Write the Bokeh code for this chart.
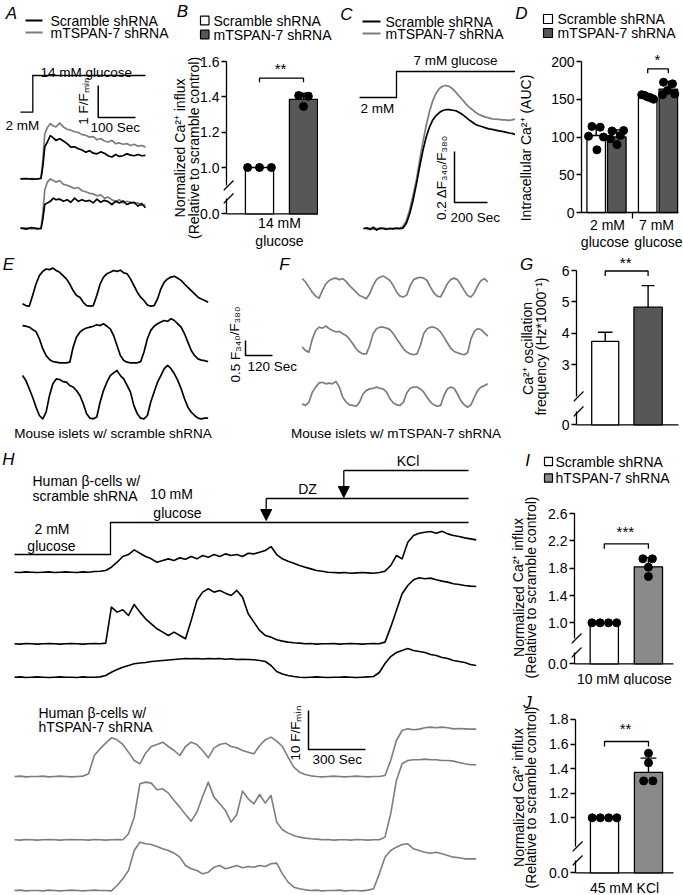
from bokeh.plotting import figure
from bokeh.layouts import row, column
from bokeh.models import Range1d, Label, Arrow, NormalHead, FixedTicker, LinearAxis
from bokeh.embed import file_html
from bokeh.resources import INLINE

# ======================= DATA =======================
# --- A: Ca2+ traces at 14 mM glucose (F/Fmin), time in s
A_series = ["Scramble shRNA", "mTSPAN-7 shRNA"]
A_t = [0, 15, 30, 45, 55, 60, 65, 72, 80, 88, 95, 105, 115, 125, 135, 145, 155, 165,
       175, 185, 195, 205, 215, 225, 235, 245, 255, 265, 275, 285, 295, 305, 315, 325, 335]
A_scr_1 = [1.0, 1.01, 0.99, 1.0, 1.01, 1.4, 2.0, 2.15, 2.35, 2.28, 2.2, 2.25, 2.18, 2.1, 1.99, 2.0, 1.94, 1.9,
           1.83, 1.88, 1.8, 1.78, 1.84, 1.8, 1.72, 1.68, 1.76, 1.7, 1.72, 1.78, 1.74, 1.72, 1.76, 1.72, 1.73]
A_tsp_1 = [1.0, 0.99, 1.01, 1.0, 1.02, 1.6, 2.4, 2.6, 2.72, 2.65, 2.62, 2.74, 2.62, 2.55, 2.52, 2.47, 2.45, 2.38,
           2.36, 2.30, 2.32, 2.22, 2.26, 2.18, 2.15, 2.2, 2.1, 2.12, 2.08, 2.1, 2.04, 2.08, 2.02, 2.04, 1.99]
A_scr_2 = [1.02, 0.98, 1.03, 0.99, 1.0, 1.3, 1.75, 1.8, 1.85, 1.95, 1.9, 1.92, 1.85, 1.9, 1.82, 1.95, 1.85, 1.9,
           1.85, 1.88, 1.8, 1.92, 1.82, 1.88, 1.84, 1.75, 1.85, 1.8, 1.86, 1.75, 1.8, 1.82, 1.7, 1.78, 1.65]
A_tsp_2 = [1.0, 1.02, 0.99, 1.01, 1.0, 1.5, 2.2, 2.45, 2.55, 2.5, 2.45, 2.5, 2.38, 2.35, 2.3, 2.25, 2.28, 2.18,
           2.15, 2.1, 2.08, 2.02, 2.05, 1.95, 1.98, 1.9, 1.85, 1.9, 1.8, 1.85, 1.82, 1.78, 1.8, 1.72, 1.75]

# --- B: normalized Ca2+ influx, 14 mM glucose
B_groups = ["Scramble shRNA", "mTSPAN-7 shRNA"]
B_mean = [1.0, 1.386]
B_sd = [0.0, 0.035]
B_dots = [[1.0, 1.0, 1.0], [1.408, 1.404, 1.346]]
B_ticks = [0.0, 1.0, 1.2, 1.4, 1.6]
B_ticklabels = ["0.0", "1.0", "1.2", "1.4", "1.6"]

# --- C: Ca2+ traces at 7 mM glucose (delta F340/F380), time in s
C_series = ["Scramble shRNA", "mTSPAN-7 shRNA"]
C_t = [0, 20, 40, 60, 80, 100, 120, 140, 160, 180, 200, 220, 240, 260, 280, 300, 320, 340, 360, 380,
       400, 420, 440, 460, 480, 500, 520, 540, 560, 580, 600, 620, 640, 660, 680, 700, 720, 740, 760,
       780, 800, 820, 840, 860, 880, 900, 920]
C_scr = [0.0, 0.004, -0.003, 0.006, -0.005, 0.003, 0.001, -0.002, 0.002, 0.0, 0.003, 0.001,
         0.003, 0.022, 0.059, 0.111, 0.173, 0.242, 0.307, 0.36, 0.399, 0.427, 0.444, 0.456, 0.464,
         0.467, 0.467, 0.465, 0.463, 0.456, 0.448, 0.438, 0.427, 0.418, 0.409, 0.404, 0.4, 0.396,
         0.392, 0.39, 0.387, 0.384, 0.382, 0.379, 0.376, 0.374, 0.37]
C_tsp = [0.003, 0.0, 0.002, -0.002, 0.001, 0.0, 0.003, 0.001, -0.001, 0.002, 0.0, 0.002,
         0.01, 0.033, 0.075, 0.131, 0.19, 0.268, 0.34, 0.405, 0.46, 0.503, 0.532, 0.55, 0.559,
         0.562, 0.558, 0.549, 0.535, 0.52, 0.506, 0.49, 0.477, 0.467, 0.456, 0.448, 0.443, 0.438,
         0.435, 0.431, 0.43, 0.429, 0.427, 0.427, 0.425, 0.427, 0.43]

# --- D: intracellular Ca2+ (AUC)
D_groups = ["2 mM glucose", "7 mM glucose"]
D_series = ["Scramble shRNA", "mTSPAN-7 shRNA"]
D_scr_mean = [102, 152]
D_scr_sd = [11, 2.5]
D_tsp_mean = [100, 163.5]
D_tsp_sd = [9.5, 10]
D_scr_dots = [[114, 113, 101, 100, 83], [156, 155, 153, 152, 150]]
D_tsp_dots = [[108, 108.6, 102, 97.6, 90], [172.6, 170.4, 156, 157, 161.6]]
D_ticks = [0, 50, 100, 150, 200]

# --- E / F: Ca2+ oscillations (F340/F380 above trough), time in s
E_t = [0, 15, 30, 45, 60, 75, 90, 105, 120, 135, 150, 165, 180, 195, 210, 225, 240, 255, 270, 285,
       300, 315, 330, 345, 360, 375, 390, 405, 420, 435, 450, 465, 480, 495, 510, 525, 540, 555,
       570, 585, 600, 615, 630, 645, 660, 675, 690, 705, 720, 735, 750, 765, 780, 795, 810, 825]
E_1 = [0.08, 0.02, 0.0, 0.36, 0.74, 1.02, 1.16, 1.24, 1.22, 1.27, 1.19, 1.13, 1.02, 0.91, 0.74, 0.52,
       0.36, 0.30, 0.13, 0.02, 0.0, 0.02, 0.36, 0.74, 0.97, 1.08, 1.13, 1.19, 1.16, 1.20, 1.11, 1.08,
       0.91, 0.69, 0.47, 0.30, 0.19, 0.04, 0.0, 0.02, 0.24, 0.58, 0.80, 0.91, 0.97, 1.0, 0.93, 0.86,
       0.74, 0.63, 0.52, 0.41, 0.30, 0.24, 0.19, 0.13]
E_2 = [1.24, 1.22, 1.19, 1.11, 1.04, 0.8, 0.47, 0.24, 0.11, 0.04, 0.02, 0.0, 0.0, 0.0, 0.02, 0.52,
       0.86, 1.02, 1.11, 1.16, 1.19, 1.22, 1.27, 1.24, 1.3, 1.22, 1.13, 0.91, 0.58, 0.24, 0.08, 0.02,
       0.0, 0.0, 0.0, 0.04, 0.36, 0.8, 1.08, 1.22, 1.3, 1.36, 1.41, 1.38, 1.47, 1.41, 1.3, 1.19,
       0.97, 0.69, 0.41, 0.24, 0.13, 0.09, 0.07, 0.04]
E_3 = [1.44, 1.28, 1.0, 0.72, 0.39, 0.11, 0.0, 0.22, 0.78, 1.17, 1.33, 1.31, 1.24, 1.22, 1.11, 1.06,
       0.94, 0.78, 0.5, 0.17, 0.02, 0.0, 0.06, 0.56, 0.94, 1.22, 1.44, 1.53, 1.61, 1.44, 1.33, 1.11,
       0.89, 0.44, 0.17, 0.02, 0.0, 0.11, 0.56, 0.89, 1.22, 1.44, 1.67, 1.78, 1.67, 1.5, 1.28, 1.0,
       0.67, 0.39, 0.22, 0.11, 0.02, 0.0, 0.02, 0.02]
F_t = E_t
F_1 = [0.67, 0.56, 0.39, 0.22, 0.09, 0.02, 0.28, 0.5, 0.61, 0.67, 0.69, 0.64, 0.67, 0.58, 0.44, 0.33,
       0.22, 0.11, 0.06, 0.0, 0.17, 0.44, 0.64, 0.72, 0.76, 0.69, 0.61, 0.44, 0.22, 0.09, 0.06, 0.13,
       0.44, 0.64, 0.69, 0.72, 0.69, 0.61, 0.39, 0.2, 0.09, 0.06, 0.28, 0.5, 0.64, 0.69, 0.64, 0.47,
       0.28, 0.11, 0.06, 0.2, 0.44, 0.61, 0.67, 0.56]
F_2 = [0.26, 0.14, 0.09, 0.53, 0.81, 0.92, 0.89, 0.96, 0.87, 0.81, 0.76, 0.78, 0.70, 0.64, 0.53, 0.37,
       0.20, 0.09, 0.03, 0.03, 0.31, 0.70, 0.87, 0.92, 0.92, 0.89, 0.84, 0.70, 0.53, 0.37, 0.20, 0.09,
       0.03, 0.0, 0.03, 0.31, 0.70, 0.87, 0.92, 0.92, 0.87, 0.76, 0.59, 0.40, 0.22, 0.11, 0.07, 0.03,
       0.0, 0.07, 0.53, 0.78, 0.87, 0.84, 0.73, 0.62]
F_3 = [0.11, 0.06, 0.17, 0.50, 0.67, 0.81, 0.83, 0.78, 0.80, 0.78, 0.86, 0.67, 0.33, 0.17, 0.08, 0.06,
       0.03, 0.17, 0.44, 0.56, 0.61, 0.63, 0.67, 0.63, 0.61, 0.50, 0.28, 0.14, 0.08, 0.06, 0.17, 0.48,
       0.63, 0.67, 0.67, 0.61, 0.50, 0.33, 0.17, 0.08, 0.03, 0.06, 0.39, 0.61, 0.67, 0.63, 0.44, 0.22,
       0.08, 0.0, 0.08, 0.33, 0.56, 0.67, 0.72, 0.78]

# --- G: oscillation frequency (Hz*1000^-1)
G_groups = ["Scramble shRNA", "mTSPAN-7 shRNA"]
G_mean = [3.74, 4.83]
G_err = [0.29, 0.69]
G_ticks = [0, 3, 4, 5, 6]

# --- H: human beta-cell traces (F/Fmin), time in s
H_t = [0, 30, 60, 90, 120, 150, 180, 210, 240, 270, 300, 330, 360, 390, 420, 450, 480, 510, 540, 570,
       600, 630, 660, 690, 720, 750, 780, 810, 840, 870, 900, 930, 960, 990, 1020, 1050, 1080, 1110,
       1140, 1170, 1200, 1230, 1260, 1290, 1320, 1350, 1380, 1410, 1440, 1470, 1500, 1530, 1560, 1590,
       1620, 1650, 1680, 1710, 1740, 1770, 1800, 1830, 1860, 1890, 1920, 1950, 1980, 2010, 2040, 2070,
       2100, 2130, 2160, 2190, 2220, 2250, 2280, 2310, 2340, 2370, 2400, 2430]
H_scr_1 = [1.0, 0.91, 1.09, 1.0, 0.91, 1.0, 1.09, 0.91, 1.0, 1.09, 1.0, 0.91, 1.09, 1.0, 1.17, 1.26, 1.43,
           2.28, 3.56, 5.02, 5.53, 6.73, 5.87, 5.02, 4.42, 3.56, 3.99, 4.42, 3.99, 4.68, 4.33, 5.02, 4.42,
           5.27, 4.85, 5.53, 5.02, 5.7, 5.27, 5.53, 5.02, 5.87, 5.7, 6.13, 6.56, 7.58,
           5.53, 4.42, 3.82, 3.31, 2.71, 2.28, 1.85, 1.43, 1.26, 1.0, 0.91,
           0.83, 0.91, 0.74, 0.83, 0.91, 0.83, 0.74, 0.91,
           1.26, 2.71, 5.27, 4.42, 8.69, 10.4, 11.0, 11.26, 11.43, 11.0, 11.51, 10.83, 10.4, 10.15, 9.8,
           9.55, 9.29]
H_scr_2 = [1.0, 0.91, 1.09, 1.0, 0.91, 1.0, 1.09, 1.0, 0.91, 1.0, 1.09, 1.0, 0.91, 1.0, 1.09, 1.0,
           1.17, 10.4, 9.12, 9.72, 8.26, 11.09, 9.12, 7.41, 6.13, 4.85, 3.99, 3.14, 3.99, 3.14, 2.28, 6.98,
           12.11, 14.25, 15.1, 14.25, 14.68, 13.99, 13.39, 14.68, 12.97, 8.69, 6.56, 4.42, 3.14, 2.71,
           2.03, 1.68, 1.43, 1.26, 1.17,
           1.0, 1.09, 0.91, 1.0, 1.0, 1.09, 0.91, 1.0, 1.09, 1.0, 0.91, 1.0, 1.09, 1.0,
           1.43, 5.27, 9.55, 13.82, 15.96, 17.41, 17.92, 17.67, 17.84, 17.41, 17.07, 16.81, 16.38, 16.21,
           15.96, 15.79, 15.7]
H_scr_3 = [1.0, 1.09, 0.91, 1.0, 1.09, 1.0, 0.91, 1.0, 1.09, 1.0, 1.0, 0.91, 1.09, 1.0, 1.0, 1.09,
           1.44, 2.28, 2.97, 3.56, 4.0, 4.44, 4.64, 4.77, 5.03, 5.15, 5.28, 5.41, 5.54, 5.67, 5.79, 5.72,
           5.79, 5.67, 5.79, 5.72, 5.79, 5.62, 5.72, 5.54, 5.62, 5.54, 5.46, 5.28, 5.03, 4.0, 2.46, 1.82,
           1.44, 1.18,
           1.0, 0.91, 1.0, 1.09, 1.0, 0.91, 1.0, 1.0, 1.09, 1.0, 0.91, 1.0, 1.09,
           1.18, 2.2, 4.5, 6.3, 7.33, 7.85, 8.36, 7.85, 7.59, 7.33, 6.82, 6.56, 6.05, 5.79, 5.28, 5.03,
           4.77, 4.26, 4.0]
H_tsp_1 = [1.0, 1.09, 0.91, 1.0, 1.0, 1.09, 0.91, 1.0, 1.09, 1.0, 0.91, 1.0, 1.09,
           1.68, 6.38, 8.09, 9.55, 10.91, 10.4, 9.21, 7.24, 5.1, 4.25, 6.98, 8.69, 9.21, 9.8, 8.69, 7.67,
           6.38, 8.69, 9.8, 9.21, 7.67, 5.79, 8.35, 9.21, 9.55, 8.69, 8.35, 7.67, 7.24, 6.81, 8.95, 10.4,
           11.09, 10.06, 8.69, 5.96, 3.39, 2.11, 1.51, 1.17,
           1.0, 0.91, 1.0, 1.09, 1.0, 0.91, 1.0, 1.09, 1.0, 0.91, 1.0, 1.0,
           1.26, 5.1, 10.23, 12.79, 13.22, 12.97, 13.14, 13.48, 13.65, 13.48, 13.65, 13.48, 13.22, 13.31,
           13.22, 13.14, 13.14]
H_tsp_2 = [1.0, 0.91, 1.09, 1.0, 0.91, 1.0, 1.09, 1.0, 0.91, 1.0, 1.09, 1.0, 1.0, 0.91, 1.09, 1.0,
           0.91, 1.0, 1.09, 1.0,
           2.54, 6.81, 15.36, 15.79, 15.53, 13.82, 14.08, 12.97, 11.09, 9.38, 7.5, 5.79, 8.09, 12.11,
           15.79, 11.94, 10.23, 8.52, 5.53, 7.5, 13.48, 11.51, 10.23, 12.62, 10.4, 12.37, 5.53, 3.56,
           2.71, 2.11, 1.68, 1.43, 1.26, 1.17,
           1.0, 1.09, 0.91, 1.0, 1.0, 0.91, 1.09, 1.0, 0.91, 1.0, 1.0,
           1.68, 7.67, 16.21, 20.49, 21.34, 21.51, 21.51, 21.68, 21.51, 21.51, 21.34, 21.34, 21.17, 20.83,
           20.49, 20.23, 20.23]
H_tsp_3 = [1.0, 1.09, 0.91, 1.0, 1.0, 0.91, 1.09, 1.0, 0.91, 1.0, 1.09, 1.0, 0.91, 1.0, 1.09, 1.0,
           1.0, 0.91,
           2.28, 3.99, 6.13, 11.26, 13.39, 12.97, 12.79, 12.28, 11.68, 11.26, 10.57, 9.55, 7.41, 6.56,
           6.13, 5.27, 5.7, 6.98, 7.41, 6.56, 6.98, 7.41, 6.81, 7.15, 6.98, 7.41, 7.15, 7.84, 8.01, 5.27,
           3.14, 1.85, 1.43, 1.17,
           1.0, 1.09, 0.91, 1.0, 1.0, 1.09, 0.91, 1.0, 1.0, 0.91, 1.09,
           1.43, 5.27, 9.55, 11.26, 12.11, 12.79, 12.97, 11.68, 11.26, 10.83, 10.57, 10.83, 10.4, 9.97,
           9.55, 9.38, 9.12, 9.12, 9.12]

# --- I / J: normalized Ca2+ influx in human beta-cells
I_groups = ["Scramble shRNA", "hTSPAN-7 shRNA"]
I_mean = [1.0, 1.82]
I_sd = [0.0, 0.135]
I_dots = [[1.0, 1.0, 1.0, 1.0], [1.938, 1.938, 1.815, 1.678]]
I_ticks = [0.0, 1.0, 1.4, 1.8, 2.2, 2.6]
I_ticklabels = ["0.0", "1.0", "1.4", "1.8", "2.2", "2.6"]
J_mean = [1.0, 1.37]
J_sd = [0.0, 0.115]
J_dots = [[1.0, 1.0, 1.0, 1.0], [1.525, 1.447, 1.30, 1.30]]
J_ticks = [0.0, 1.0, 1.2, 1.4, 1.6, 1.8]
J_ticklabels = ["0.0", "1.0", "1.2", "1.4", "1.6", "1.8"]

# ======================= LAYOUT / STYLE =======================
S = 1.0
FONT = "Liberation Sans"
BLACK = "#000000"
GRAY = "#7d7d7d"
DARK = "#575757"
MID = "#8a8a8a"
ROT = 1.5708

FA = {}
try:
    if "frame_align" in figure.properties():
        FA = {"frame_align": False}
except Exception:
    FA = {}


def fsz(v):
    return "%.2fpx" % (v * S)


class Pane:
    """Maps reference-picture pixels to data units of one figure."""

    def __init__(self, box, x0=0.0, ppx=1.0, y0=0.0, ppy=1.0, frame=None):
        self.box = box
        self.frame = frame or box
        self.x0, self.ppx, self.y0, self.ppy = x0, ppx, y0, ppy

    def X(self, px):
        return (px - self.x0) / self.ppx

    def Y(self, py):
        return (self.y0 - py) / self.ppy

    def fig(self, yaxis=False):
        L, T, R, B = [round(v * S) for v in self.box]
        fl, ft, fr, fb = self.frame
        gl, gt, gr, gb = [round(v * S) for v in self.frame]
        kw = dict(frame_width=gr - gl, frame_height=gb - gt,
                  min_border_left=gl - L, min_border_right=R - gr,
                  min_border_top=gt - T, min_border_bottom=B - gb,
                  output_backend="svg", toolbar_location=None, title=None,
                  x_range=Range1d(self.X(fl), self.X(fr)), y_range=Range1d(self.Y(fb), self.Y(ft)),
                  x_axis_type=None, y_axis_type="linear" if yaxis else None)
        kw.update(FA)
        p = figure(**kw)
        p.outline_line_color = None
        p.grid.visible = False
        return p


def txt(p, P, px, py, s, size=14, align="left", angle=0, style="normal", color="black"):
    p.add_layout(Label(x=P.X(px), y=P.Y(py), text=s, text_font=FONT, text_font_size=fsz(size),
                       text_align=align, text_baseline="middle", angle=angle,
                       text_font_style=style, text_color=color))


def pline(p, P, pts, lw=1.3, color="black"):
    p.line([P.X(a) for a, b in pts], [P.Y(b) for a, b in pts], line_color=color,
           line_width=lw * S, line_join="miter")


def trace(p, P, t, v, start_px, base_px, vbase, color, lw=1.7):
    xs = [P.X(start_px) + ti for ti in t]
    ys = [P.Y(base_px) + (vi - vbase) for vi in v]
    return p.line(xs, ys, line_color=color, line_width=lw * S, line_join="round")


def line_legend(p, P, entries, x1, x2, ys, tx, size=14):
    for (lab, col), y in zip(entries, ys):
        pline(p, P, [(x1, y), (x2, y)], lw=2.0, color=col)
        txt(p, P, tx, y, lab, size=size)


def box_legend(p, P, entries, x1, x2, ys, half, tx, size=14):
    for (lab, col), y in zip(entries, ys):
        p.quad(left=P.X(x1), right=P.X(x2), top=P.Y(y - half), bottom=P.Y(y + half),
               fill_color=col, line_color="black", line_width=1.2 * S)
        txt(p, P, tx, y, lab, size=size)


def chart(P, yticks, ylabels, inner=None, outer=None, ls_in=0, ls_out=0, sizes=(14, 14)):
    p = P.fig(yaxis=True)
    ya = p.yaxis[0]
    ya.ticker = FixedTicker(ticks=list(yticks))
    ya.major_label_overrides = {t: l for t, l in zip(yticks, ylabels)}
    ya.bounds = (yticks[0], yticks[-1])
    ya.axis_line_color = None
    ya.major_tick_line_color = "black"
    ya.major_tick_line_width = 1.3 * S
    ya.major_tick_out = 2
    ya.major_tick_in = 3
    ya.minor_tick_line_color = None
    ya.major_label_standoff = 2
    ya.major_label_text_font = FONT
    ya.major_label_text_font_size = fsz(14)
    ya.major_label_text_color = "black"
    if inner:
        ya.axis_label = inner
        ya.axis_label_standoff = ls_in
        ya.axis_label_text_font = FONT
        ya.axis_label_text_font_size = fsz(sizes[0])
        ya.axis_label_text_font_style = "normal"
        ya.axis_label_text_color = "black"
    if outer:
        ax2 = LinearAxis(ticker=FixedTicker(ticks=[]), bounds=(yticks[0], yticks[-1]),
                         axis_label=outer, axis_label_standoff=ls_out, axis_line_color=None,
                         major_tick_line_color=None, minor_tick_line_color=None,
                         major_tick_out=0, major_tick_in=0, major_label_standoff=0,
                         axis_label_text_font=FONT, axis_label_text_font_size=fsz(sizes[1]),
                         axis_label_text_font_style="normal", axis_label_text_color="black")
        p.add_layout(ax2, "left")
    return p


def axis_lines(p, P, ax_px, top_px, base_px, right_px, gap=None):
    segs = [(top_px, base_px)] if gap is None else [(top_px, gap[0]), (gap[1], base_px)]
    for a, b in segs:
        pline(p, P, [(ax_px, a), (ax_px, b)], lw=1.3)
    pline(p, P, [(ax_px, base_px), (right_px, base_px)], lw=1.3)
    if gap is not None:
        for yc in gap:
            pline(p, P, [(ax_px - 3, yc + 5), (ax_px + 7, yc - 5)], lw=1.2)


def errs(p, x, means, sds, cap):
    for xi, m, s in zip(x, means, sds):
        if s > 0:
            p.segment([xi, xi - cap / 2], [m, m + s], [xi, xi + cap / 2], [m + s, m + s],
                      line_color="black", line_width=1.4 * S)


def dots(p, x, vals, dx):
    xs, ys = [], []
    for xi, vs, ds in zip(x, vals, dx):
        for v, d in zip(vs, ds):
            xs.append(xi + d)
            ys.append(v)
    p.scatter(xs, ys, size=8 * S, fill_color="black", line_color="black")


def bracket(p, x1, x2, y, yend):
    p.line([x1, x1, x2, x2], [yend, y, y, yend], line_color="black", line_width=1.3 * S)


def vbars(p, x, means, base, width, fill):
    return p.vbar(x=x, top=means, bottom=base, width=width, fill_color=fill,
                  line_color="black", line_width=1.3 * S)


# ---------------- top strip of row 1: letters + legends of A-D ----------------
PT = Pane((0, 0, 683, 44))
pT = PT.fig()
txt(pT, PT, 11, 13, "A", size=17, align="center", style="italic")
line_legend(pT, PT, [(A_series[0], BLACK), (A_series[1], GRAY)], 25, 42, [20, 32], 50)
txt(pT, PT, 182, 11, "B", size=17, align="center", style="italic")
box_legend(pT, PT, [(B_groups[0], "white"), (B_groups[1], DARK)], 200, 208.5, [20, 34], 4.3, 213)
txt(pT, PT, 346, 14, "C", size=17, align="center", style="italic")
line_legend(pT, PT, [(C_series[0], BLACK), (C_series[1], GRAY)], 362, 380, [21, 33], 385)
txt(pT, PT, 521, 13, "D", size=17, align="center", style="italic")
box_legend(pT, PT, [(D_series[0], "white"), (D_series[1], DARK)], 543, 552, [18.5, 32.5], 4.5, 557)

# ---------------- A ----------------
PA = Pane((0, 44, 160, 251), x0=20, ppx=0.373, y0=260, ppy=32)
pA = PA.fig()
trace(pA, PA, A_t, A_tsp_2, 20, 228, 1.0, GRAY)
trace(pA, PA, A_t, A_scr_2, 20, 228, 1.0, BLACK)
trace(pA, PA, A_t, A_tsp_1, 20, 178.3, 1.0, GRAY)
trace(pA, PA, A_t, A_scr_1, 20, 178.3, 1.0, BLACK)
pline(pA, PA, [(20, 111.7), (32.3, 111.7), (32.3, 75), (145, 75)])
sx, sy = PA.X(97.7), PA.Y(117)
pA.line([sx, sx, sx + 100], [sy + 1, sy, sy], line_color="black", line_width=1.5 * S)
txt(pA, PA, 40, 72, "14 mM glucose", size=13.5)
txt(pA, PA, 5, 125, "2 mM", size=13.5)
txt(pA, PA, 83, 101, "1 F/F\u2098\u1d62\u2099", size=13.5, align="center", angle=ROT)
txt(pA, PA, 90, 127, "100 Sec", size=13.5)

# ---------------- B ----------------
PB = Pane((160, 44, 318, 251), x0=259, ppx=44, y0=343.5, ppy=176.5, frame=(223, 44, 318, 251))
B_base = PB.Y(213.3)
pB = chart(PB, [B_base] + B_ticks[1:], B_ticklabels, inner="(Relative to scramble control)",
           outer="Normalized Ca\u00b2\u207a influx", ls_in=-5, ls_out=-4)
axis_lines(pB, PB, 226, 61, 213.3, 318, gap=(185, 198))
errs(pB, [1], B_mean[1:], B_sd[1:], 0.36)
vbars(pB, [0], B_mean[:1], B_base, 0.64, "white")
vbars(pB, [1], B_mean[1:], B_base, 0.64, DARK)
dots(pB, [0, 1], B_dots, [[-0.27, 0.0, 0.27], [-0.11, 0.11, 0.0]])
bracket(pB, 0, 1, PB.Y(77.7), PB.Y(81.7))
txt(pB, PB, 280, 68, "**", size=15, align="center")
txt(pB, PB, 279, 222, "14 mM", size=14, align="center")
txt(pB, PB, 279, 240, "glucose", size=14, align="center")

# ---------------- C ----------------
PC = Pane((318, 44, 515, 251), x0=363, ppx=0.165, y0=228.3, ppy=255)
pC = PC.fig()
trace(pC, PC, C_t, C_tsp, 363, 228.3, 0.0, GRAY)
trace(pC, PC, C_t, C_scr, 363, 228.3, 0.0, BLACK)
pline(pC, PC, [(359, 97), (396, 97), (396, 71), (515, 71)])
sx, sy = PC.X(454), PC.Y(202)
pC.line([sx, sx, sx + 200], [sy + 0.2, sy, sy], line_color="black", line_width=1.5 * S)
txt(pC, PC, 413, 60, "7 mM glucose", size=13.5)
txt(pC, PC, 360, 108, "2 mM", size=13.5)
txt(pC, PC, 441, 177, "0.2 \u0394F\u2083\u2084\u2080/F\u2083\u2088\u2080", size=13.5, align="center", angle=ROT)
txt(pC, PC, 450, 217, "200 Sec", size=13.5)

# ---------------- D ----------------
PD = Pane((515, 44, 683, 251), x0=601, ppx=51.5, y0=212, ppy=0.755, frame=(573, 44, 683, 251))
pD = chart(PD, D_ticks, [str(t) for t in D_ticks], inner="Intracellular Ca\u00b2\u207a (AUC)", ls_in=14)
axis_lines(pD, PD, 576, 61, 212, 673)
pline(pD, PD, [(627, 212), (627, 218)])
errs(pD, [-0.2, 0.8], D_scr_mean, D_scr_sd, 0.3)
errs(pD, [0.2, 1.2], D_tsp_mean, D_tsp_sd, 0.3)
vbars(pD, [-0.2, 0.8], D_scr_mean, 0, 0.36, "white")
vbars(pD, [0.2, 1.2], D_tsp_mean, 0, 0.36, DARK)
px_off = [[-4.3, 4, -7.7, 7.3, 0.7], [-6, -3, 0, 3, 6]]
dots(pD, [-0.2, 0.8], D_scr_dots, [[d / 51.5 for d in r] for r in px_off])
px_off = [[-4.8, 6.8, 3.5, -6.5, 0.2], [-4.8, 4.2, -5.8, 6.5, -0.8]]
dots(pD, [0.2, 1.2], D_tsp_dots, [[d / 51.5 for d in r] for r in px_off])
bracket(pD, 0.8, 1.2, PD.Y(68.3), PD.Y(72.7))
txt(pD, PD, 652, 59, "*", size=15, align="center")
txt(pD, PD, 602, 224, "2 mM", size=14, align="center")
txt(pD, PD, 651, 224, "7 mM", size=14, align="center")
txt(pD, PD, 599.5, 241, "glucose", size=14, align="center")
txt(pD, PD, 653, 241, "glucose", size=14, align="center")

# ---------------- E + F (+ G's letter and axis titles) ----------------
PE = Pane((0, 251, 551, 448), x0=22, ppx=0.225, y0=448, ppy=30)
pE = PE.fig()
for v, b in zip([E_1, E_2, E_3], [305.7, 362.3, 418.3]):
    trace(pE, PE, E_t, v, 22, b, 0.0, BLACK)
for v, b in zip([F_1, F_2, F_3], [298.3, 354.3, 406.7]):
    trace(pE, PE, F_t, v, 301.7, b, 0.0, GRAY)
sx, sy = PE.X(245), PE.Y(355)
pE.line([sx, sx, sx + 120], [sy + 0.5, sy, sy], line_color="black", line_width=1.5 * S)
txt(pE, PE, 8, 264, "E", size=17, align="center", style="italic")
txt(pE, PE, 284, 264, "F", size=17, align="center", style="italic")
txt(pE, PE, 234.5, 344, "0.5 F\u2083\u2084\u2080/F\u2083\u2088\u2080", size=13.5, align="center", angle=ROT)
txt(pE, PE, 247, 366, "120 Sec", size=13.5)
txt(pE, PE, 112.5, 433, "Mouse islets w/ scramble shRNA", size=13.5, align="center")
txt(pE, PE, 395.5, 433, "Mouse islets w/ mTSPAN-7 shRNA", size=13.5, align="center")
txt(pE, PE, 526, 264, "G", size=17, align="center", style="italic")
txt(pE, PE, 527, 348, "Ca\u00b2\u207a oscillation", size=14, align="center", angle=ROT)
txt(pE, PE, 540.5, 346, "frequency (Hz*1000\u207b\u00b9)", size=14, align="center", angle=ROT)

# ---------------- G ----------------
PG = Pane((551, 251, 683, 448), x0=604.5, ppx=43, y0=457.9, ppy=31.3, frame=(572.7, 251, 683, 448))
G_base = PG.Y(424.3)
pG = chart(PG, [G_base] + G_ticks[1:], [str(t) for t in G_ticks])
axis_lines(pG, PG, 575.7, 270, 424.3, 678, gap=(396, 411))
errs(pG, [0], G_mean[:1], G_err[:1], 0.34)
errs(pG, [1], G_mean[1:], G_err[1:], 0.3)
vbars(pG, [0], G_mean[:1], G_base, 0.63, "white")
vbars(pG, [1], G_mean[1:], G_base, 0.66, DARK)
bracket(pG, 0, 1, PG.Y(270.5), PG.Y(275.5))
txt(pG, PG, 625, 262, "**", size=15, align="center")

# ---------------- H (+ I/J letters and axis titles) ----------------
PH = Pane((0, 448, 541, 895), x0=14, ppx=0.19, y0=895, ppy=3.9)
pH = PH.fig()
for v, b in zip([H_scr_1, H_scr_2, H_scr_3], [571.7, 643.3, 676.7]):
    trace(pH, PH, H_t, v, 14, b, 1.0, BLACK, lw=1.6)
for v, b in zip([H_tsp_1, H_tsp_2, H_tsp_3], [776, 839.3, 890]):
    trace(pH, PH, H_t, v, 14, b, 1.0, GRAY, lw=1.6)
pline(pH, PH, [(14, 554), (110, 554), (110, 522), (468, 522)])
pline(pH, PH, [(265.7, 498), (468, 498)])
pline(pH, PH, [(343.3, 470), (468, 470)])
for xa, ya, yb in [(265.7, 498, 520), (343.3, 470, 497)]:
    pH.add_layout(Arrow(end=NormalHead(size=11 * S, fill_color="black", line_color="black", line_width=1),
                        x_start=PH.X(xa), y_start=PH.Y(ya), x_end=PH.X(xa), y_end=PH.Y(yb),
                        line_color="black", line_width=1.3 * S))
sx, sy = PH.X(308), PH.Y(749)
pH.line([sx, sx, sx + 300], [sy + 10, sy, sy], line_color="black", line_width=1.5 * S)
txt(pH, PH, 8, 459, "H", size=17, align="center", style="italic")
txt(pH, PH, 32, 480, "Human \u03b2-cells w/", size=14)
txt(pH, PH, 32, 495, "scramble shRNA", size=14)
txt(pH, PH, 171, 493, "10 mM", size=14, align="center")
txt(pH, PH, 177, 512, "glucose", size=14, align="center")
txt(pH, PH, 51.5, 528, "2 mM", size=14, align="center")
txt(pH, PH, 51, 545, "glucose", size=14, align="center")
txt(pH, PH, 307, 488, "DZ", size=14, align="center")
txt(pH, PH, 407.5, 460, "KCl", size=14, align="center")
txt(pH, PH, 38, 712, "Human \u03b2-cells w/", size=14)
txt(pH, PH, 38, 726, "hTSPAN-7 shRNA", size=14)
txt(pH, PH, 295, 733, "10 F/F\u2098\u1d62\u2099", size=13.5, align="center", angle=ROT)
txt(pH, PH, 312, 759, "300 Sec", size=13.5)
txt(pH, PH, 527, 460, "I", size=17, align="center", style="italic")
txt(pH, PH, 518, 587, "Normalized Ca\u00b2\u207a influx", size=14, align="center", angle=ROT)
txt(pH, PH, 530.5, 587, "(Relative to scramble control)", size=14, align="center", angle=ROT)
txt(pH, PH, 527, 702, "J", size=17, align="center", style="italic")
txt(pH, PH, 518, 797, "Normalized Ca\u00b2\u207a influx", size=14, align="center", angle=ROT)
txt(pH, PH, 530.5, 797, "(Relative to scramble control)", size=14, align="center", angle=ROT)

# ---------------- I ----------------
PIt = Pane((541, 448, 683, 490))
pIt = PIt.fig()
box_legend(pIt, PIt, [(I_groups[0], "white"), (I_groups[1], MID)], 544, 552, [461, 477.5], 4.2, 555)

PI = Pane((541, 490, 683, 685), x0=604, ppx=44, y0=690.55, ppy=68.25, frame=(571.3, 490, 683, 685))
I_base = PI.Y(663.3)
pI = chart(PI, [I_base] + I_ticks[1:], I_ticklabels)
axis_lines(pI, PI, 574.3, 512.7, 663.3, 673, gap=(638, 652))
errs(pI, [1], I_mean[1:], I_sd[1:], 0.36)
vbars(pI, [0], I_mean[:1], I_base, 0.64, "white")
vbars(pI, [1], I_mean[1:], I_base, 0.64, MID)
dots(pI, [0, 1], I_dots, [[-0.28, -0.095, 0.095, 0.28], [-0.125, 0.09, 0.0, 0.0]])
bracket(pI, 0, 1, PI.Y(543.3), PI.Y(548.3))
txt(pI, PI, 625, 531, "***", size=15, align="center")
txt(pI, PI, 624, 678, "10 mM glucose", size=14, align="center")

# ---------------- J ----------------
PJ = Pane((541, 685, 683, 895), x0=604, ppx=44, y0=940.3, ppy=123, frame=(572, 685, 683, 895))
J_base = PJ.Y(872.3)
pJ = chart(PJ, [J_base] + J_ticks[1:], J_ticklabels)
axis_lines(pJ, PJ, 575, 719, 872.3, 673, gap=(846, 860))
errs(pJ, [1], J_mean[1:], J_sd[1:], 0.36)
vbars(pJ, [0], J_mean[:1], J_base, 0.64, "white")
vbars(pJ, [1], J_mean[1:], J_base, 0.64, MID)
dots(pJ, [0, 1], J_dots, [[-0.28, -0.095, 0.095, 0.28], [0.0, 0.0, -0.11, 0.1]])
bracket(pJ, 0, 1, PJ.Y(741), PJ.Y(746))
txt(pJ, PJ, 625, 728, "**", size=15, align="center")
txt(pJ, PJ, 624, 887, "45 mM KCl", size=14, align="center")

layout = column(
    pT,
    row(pA, pB, pC, pD),
    row(pE, pG),
    row(pH, column(pIt, pI, pJ)),
)
open("out.html", "w").write(file_html(layout, INLINE))
